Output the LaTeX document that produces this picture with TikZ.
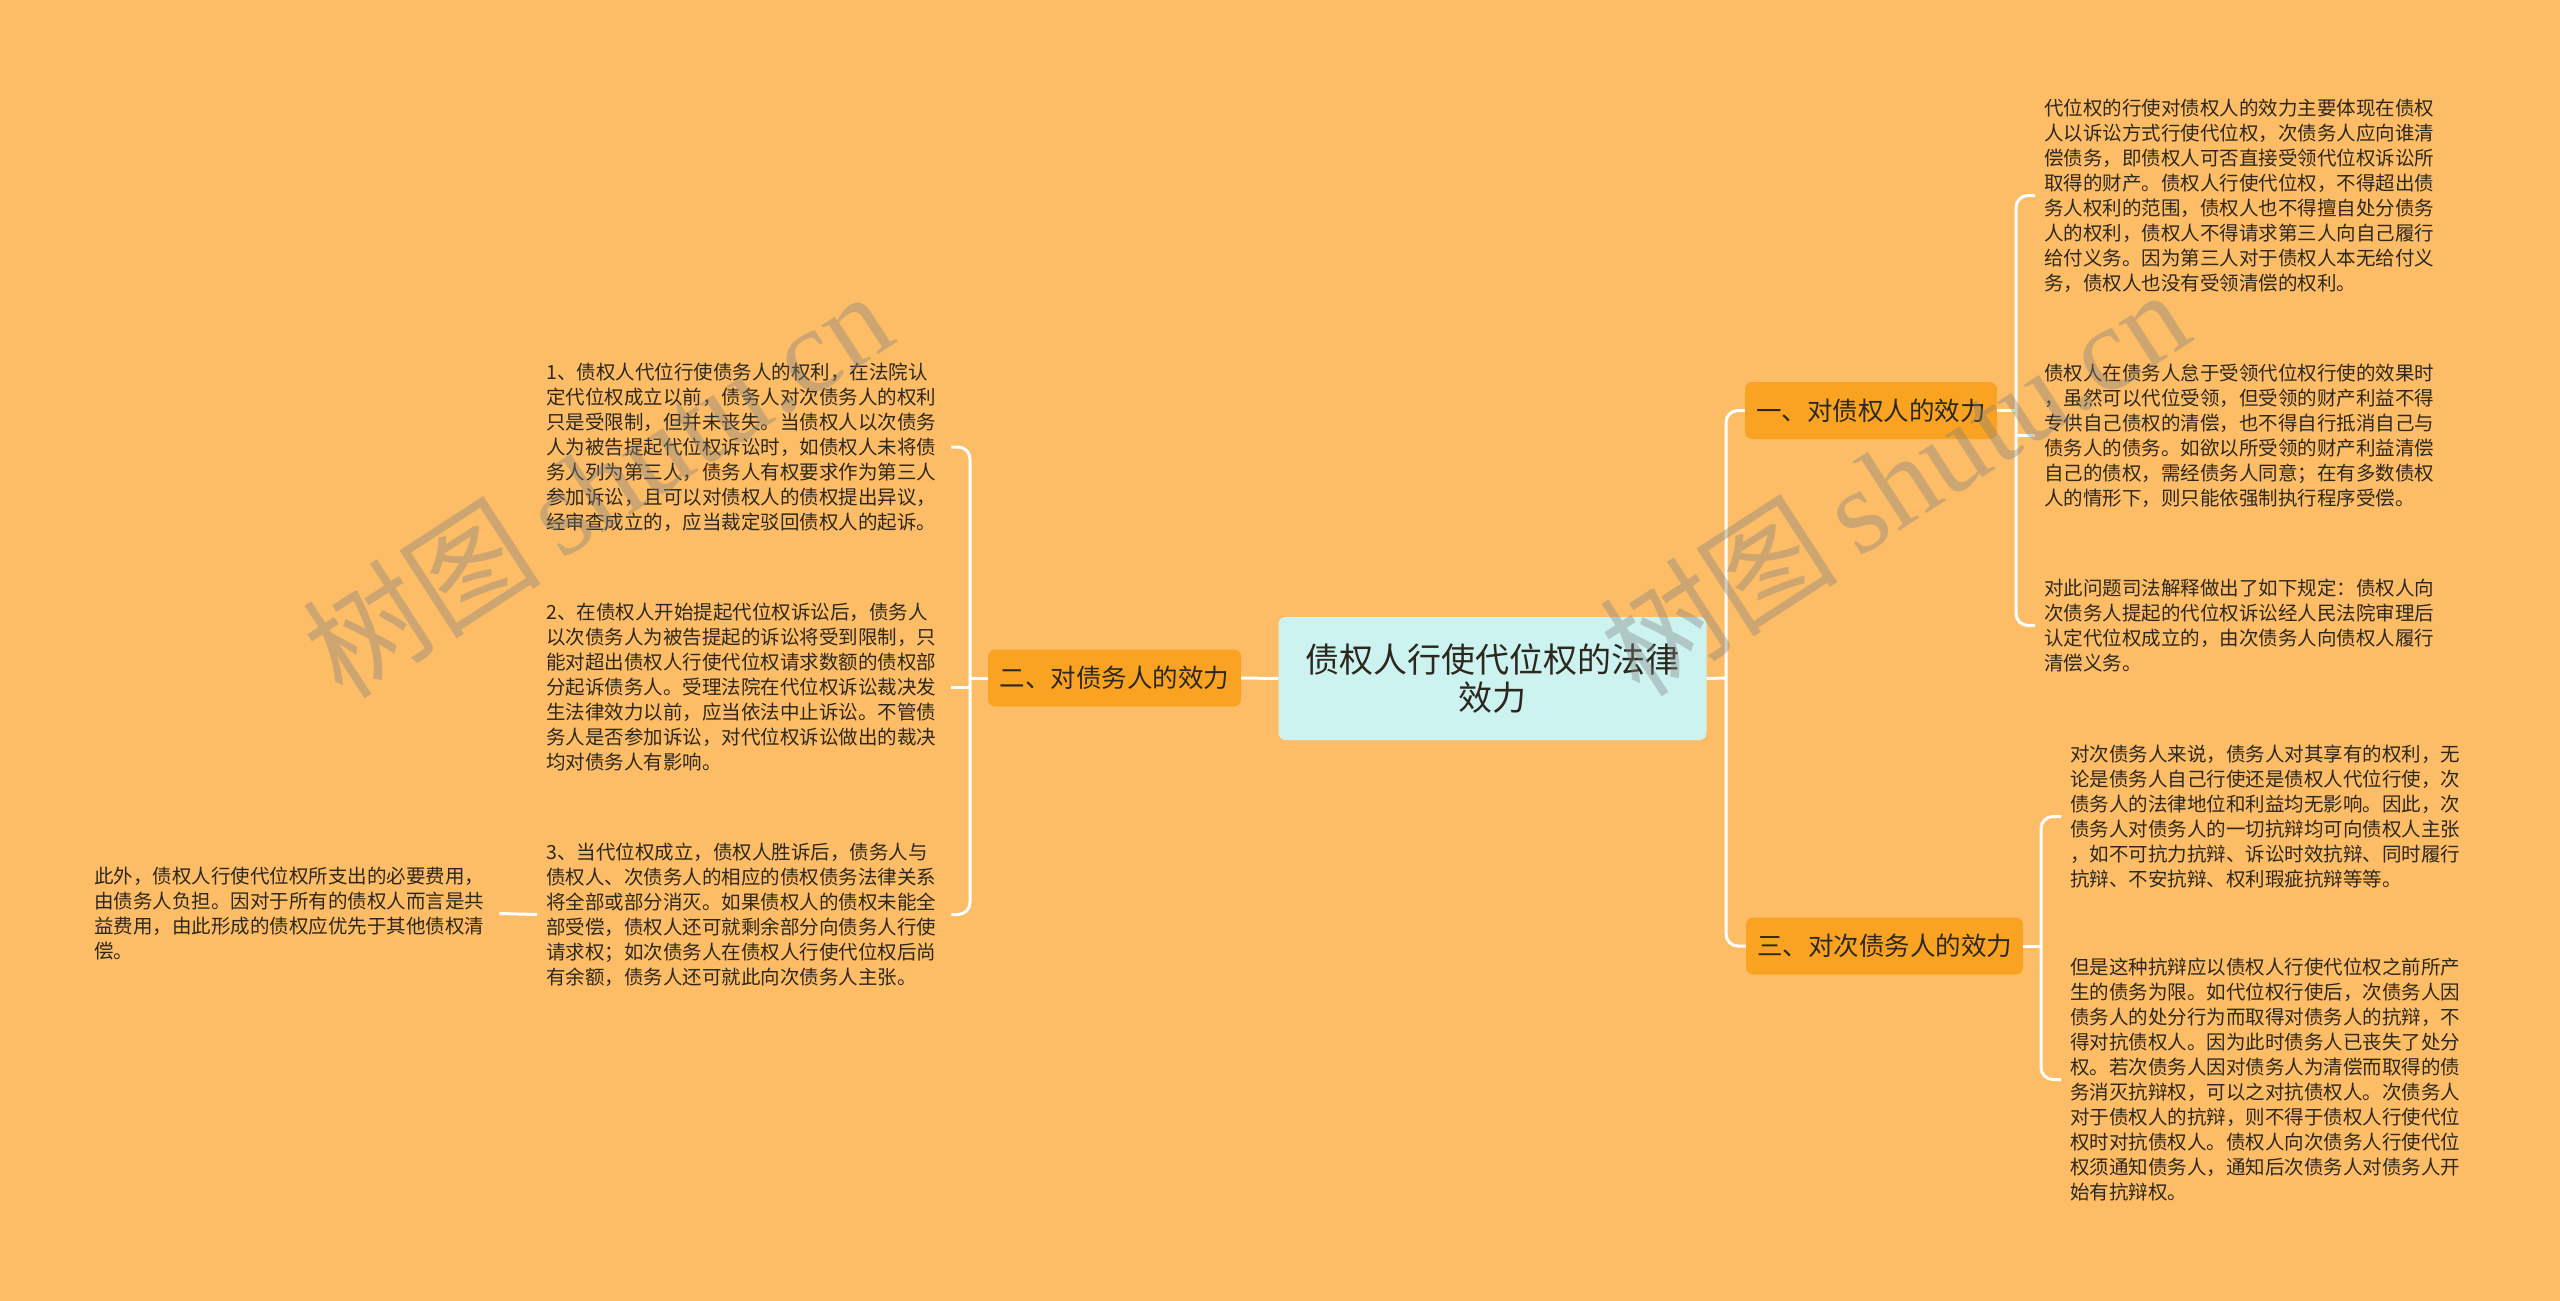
\documentclass[tikz,border=0pt]{standalone}
\usepackage{fontspec}
\setmainfont{Noto Sans CJK SC}
\newfontfamily\wmlat{Liberation Serif}
\definecolor{bgc}{RGB}{253,189,103}
\definecolor{orangenode}{RGB}{250,163,35}
\definecolor{rootfill}{RGB}{204,243,240}
\definecolor{txt}{RGB}{45,40,30}
\tikzset{
  conn/.style={draw=white, line width=3pt, rounded corners=12pt},
  rootbox/.style={fill=rootfill, rounded corners=7pt, minimum width=428pt, minimum height=123pt, align=center, text=txt, font=\fontsize{34pt}{38pt}\selectfont, inner sep=0pt},
  branchbox/.style={fill=orangenode, rounded corners=7pt, minimum height=57pt, text=txt, font=\fontsize{25.5pt}{30pt}\selectfont, inner sep=0pt},
  leafbox/.style={anchor=west, align=left, text width=396pt, inner xsep=9pt, inner ysep=0pt, text=txt, font=\fontsize{19.5pt}{25pt}\selectfont},
  wm/.style={rotate=33, anchor=base west, text=gray, text opacity=0.38, inner sep=0pt}
}
\begin{document}
\begin{tikzpicture}[x=1pt,y=-1pt]
\fill[bgc] (0,0) rectangle (2560,1301);
\useasboundingbox (0,0) rectangle (2560,1301);

% root and branches
\node[rootbox] (root) at (1492.5,678.5) {债权人行使代位权的法律\\效力};
\node[branchbox, minimum width=253pt] (n2) at (1114.5,678) {二、对债务人的效力};
\node[branchbox, minimum width=252pt] (n1) at (1871,410.5) {一、对债权人的效力};
\node[branchbox, minimum width=277pt] (n3) at (1884.5,946) {三、对次债务人的效力};

% left leaves
\node[leafbox] (L1) at (537,447) {1、债权人代位行使债务人的权利，在法院认\\
定代位权成立以前，债务人对次债务人的权利\\
只是受限制，但并未丧失。当债权人以次债务\\
人为被告提起代位权诉讼时，如债权人未将债\\
务人列为第三人，债务人有权要求作为第三人\\
参加诉讼，且可以对债权人的债权提出异议，\\
经审查成立的，应当裁定驳回债权人的起诉。};
\node[leafbox] (L2) at (537,687) {2、在债权人开始提起代位权诉讼后，债务人\\
以次债务人为被告提起的诉讼将受到限制，只\\
能对超出债权人行使代位权请求数额的债权部\\
分起诉债务人。受理法院在代位权诉讼裁决发\\
生法律效力以前，应当依法中止诉讼。不管债\\
务人是否参加诉讼，对代位权诉讼做出的裁决\\
均对债务人有影响。};
\node[leafbox] (L3) at (537,914.5) {3、当代位权成立，债权人胜诉后，债务人与\\
债权人、次债务人的相应的债权债务法律关系\\
将全部或部分消灭。如果债权人的债权未能全\\
部受偿，债权人还可就剩余部分向债务人行使\\
请求权；如次债务人在债权人行使代位权后尚\\
有余额，债务人还可就此向次债务人主张。};
\node[leafbox] (L4) at (85,913.5) {此外，债权人行使代位权所支出的必要费用，\\
由债务人负担。因对于所有的债权人而言是共\\
益费用，由此形成的债权应优先于其他债权清\\
偿。};

% right leaves (branch 1)
\node[leafbox] (RA) at (2035,195.5) {代位权的行使对债权人的效力主要体现在债权\\
人以诉讼方式行使代位权，次债务人应向谁清\\
偿债务，即债权人可否直接受领代位权诉讼所\\
取得的财产。债权人行使代位权，不得超出债\\
务人权利的范围，债权人也不得擅自处分债务\\
人的权利，债权人不得请求第三人向自己履行\\
给付义务。因为第三人对于债权人本无给付义\\
务，债权人也没有受领清偿的权利。};
\node[leafbox] (RB) at (2035,435.5) {债权人在债务人怠于受领代位权行使的效果时\\
，虽然可以代位受领，但受领的财产利益不得\\
专供自己债权的清偿，也不得自行抵消自己与\\
债务人的债务。如欲以所受领的财产利益清偿\\
自己的债权，需经债务人同意；在有多数债权\\
人的情形下，则只能依强制执行程序受偿。};
\node[leafbox] (RC) at (2035,625.5) {对此问题司法解释做出了如下规定：债权人向\\
次债务人提起的代位权诉讼经人民法院审理后\\
认定代位权成立的，由次债务人向债权人履行\\
清偿义务。};

% right leaves (branch 3)
\node[leafbox] (RD) at (2061,816.5) {对次债务人来说，债务人对其享有的权利，无\\
论是债务人自己行使还是债权人代位行使，次\\
债务人的法律地位和利益均无影响。因此，次\\
债务人对债务人的一切抗辩均可向债权人主张\\
，如不可抗力抗辩、诉讼时效抗辩、同时履行\\
抗辩、不安抗辩、权利瑕疵抗辩等等。};
\node[leafbox] (RE) at (2061,1079.5) {但是这种抗辩应以债权人行使代位权之前所产\\
生的债务为限。如代位权行使后，次债务人因\\
债务人的处分行为而取得对债务人的抗辩，不\\
得对抗债权人。因为此时债务人已丧失了处分\\
权。若次债务人因对债务人为清偿而取得的债\\
务消灭抗辩权，可以之对抗债权人。次债务人\\
对于债权人的抗辩，则不得于债权人行使代位\\
权时对抗债权人。债权人向次债务人行使代位\\
权须通知债务人，通知后次债务人对债务人开\\
始有抗辩权。};

% junctions
\coordinate (rj) at (1726,678);
\coordinate (lj) at (970,678);
\coordinate (r1j) at (2016,410.5);
\coordinate (r3j) at (2041,946);

% connectors
\draw[conn] (root.east) -- (rj);
\draw[conn] (n1.west) -| (rj) |- (n3.west);
\draw[conn] (root.west) -- (n2.east);
\draw[conn] (n2.west) -- (lj);
\draw[conn] (L1.east) -| (lj) |- (L3.east);
\draw[conn] (L2.east) -- (L2.east -| lj);
\draw[conn] (L3.west) -- (L4.east);
\draw[conn] (n1.east) -- (r1j);
\draw[conn] (RA.west) -| (r1j) |- (RC.west);
\draw[conn] (RB.west) -- (RB.west -| r1j);
\draw[conn] (n3.east) -- (r3j);
\draw[conn] (RD.west) -| (r3j) |- (RE.west);

% watermarks
\node[wm, font=\fontsize{120pt}{120pt}\selectfont] (wm1) at (343,702) {树图\,{\wmlat shutu.cn}};
\node[wm, font=\fontsize{120pt}{120pt}\selectfont] (wm2) at (1640,700) {树图\,{\wmlat shutu.cn}};
\end{tikzpicture}
\end{document}
